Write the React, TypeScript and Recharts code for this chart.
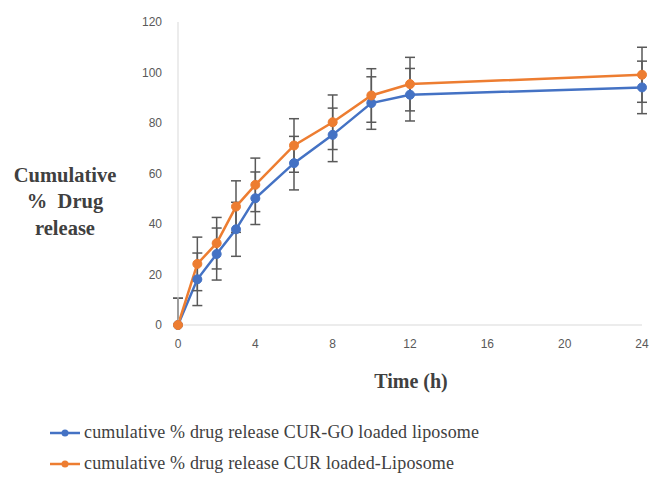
import React from 'react'
import { ErrorBar, Label, Line, LineChart, XAxis, YAxis } from 'recharts'

const hours = [0, 1, 2, 3, 4, 6, 8, 10, 12, 24]
const goLiposomeRelease = [0, 18.1, 28.1, 37.9, 50.2, 64.1, 75.3, 87.9, 91.2, 94.1]
const liposomeRelease = [0, 24.2, 32.4, 46.9, 55.5, 71.1, 80.3, 90.9, 95.4, 99.1]
const goLiposomeSd: Array<number | [number, number]> = [[0, 10.6], 10.4, 10.3, 10.7, 10.4, 10.6, 10.6, 10.4, 10.4, 10.4]
const liposomeSd: Array<number | [number, number]> = [[0, 10.6], 10.6, 10.2, 10.2, 10.6, 10.6, 10.8, 10.6, 10.6, 10.9]
const xTicks = [0, 4, 8, 12, 16, 20, 24]
const yTicks = [0, 20, 40, 60, 80, 100, 120]

const BLUE = '#4472C4'
const ORANGE = '#ED7D31'
const AXIS_GREY = '#d9d9d9'
const TICK_GREY = '#595959'
const SERIF = '"Liberation Serif", "Times New Roman", serif'

const SERIES = [
  { key: 'goLiposome', err: 'goLiposomeErr', color: BLUE, name: 'cumulative % drug release CUR-GO loaded liposome' },
  { key: 'liposome', err: 'liposomeErr', color: ORANGE, name: 'cumulative % drug release CUR loaded-Liposome' },
]

const data = hours.map((h, i) => ({
  hour: h,
  goLiposome: goLiposomeRelease[i],
  liposome: liposomeRelease[i],
  goLiposomeErr: goLiposomeSd[i],
  liposomeErr: liposomeSd[i],
}))

function LegendRow({ color, name }: { color: string; name: string }) {
  return (
    <div style={{ display: 'flex', alignItems: 'center', height: 31 }}>
      <svg width={30} height={12} style={{ marginRight: 4 }}>
        <line x1={0} y1={6} x2={30} y2={6} stroke={color} strokeWidth={2.5} />
        <circle cx={15} cy={6} r={3.5} fill={color} />
      </svg>
      <span style={{ fontFamily: SERIF, fontSize: 18, letterSpacing: 0.15, color: '#404040', whiteSpace: 'nowrap' }}>
        {name}
      </span>
    </div>
  )
}

export default function App() {
  return (
    <div style={{ position: 'absolute', left: 0, top: 0, width: 651, height: 478, background: '#fff' }}>
      <LineChart width={651} height={478} data={data} margin={{ top: 22, right: 9, left: 148, bottom: 123 }}>
        <XAxis
          dataKey="hour"
          type="number"
          domain={[0, 24]}
          ticks={xTicks}
          height={30}
          stroke={AXIS_GREY}
          tickLine={false}
          tickMargin={8}
          tick={{ fontSize: 12, fill: TICK_GREY, fontFamily: '"Liberation Sans", Arial, sans-serif' }}
        >
          <Label
            content={() => (
              <text x={411} y={388} textAnchor="middle" fontFamily={SERIF} fontWeight="bold" fontSize={20} fill="#404040">
                Time (h)
              </text>
            )}
          />
        </XAxis>
        <YAxis
          type="number"
          domain={[0, 120]}
          ticks={yTicks}
          width={30}
          stroke={AXIS_GREY}
          tickLine={false}
          tickMargin={10}
          tick={{ fontSize: 12, fill: TICK_GREY, fontFamily: '"Liberation Sans", Arial, sans-serif' }}
        >
          <Label
            content={() => (
              <text textAnchor="middle" fontFamily={SERIF} fontWeight="bold" fontSize={20.5} fill="#404040">
                <tspan x={65} y={182}>Cumulative</tspan>
                <tspan x={65} y={208}>{'%\u00a0\u00a0Drug'}</tspan>
                <tspan x={65} y={235}>release</tspan>
              </text>
            )}
          />
        </YAxis>
        {SERIES.map((s) => (
          <Line
            key={s.key}
            dataKey={s.key}
            stroke={s.color}
            strokeWidth={2.5}
            dot={{ r: 4.5, fill: s.color, stroke: s.color, strokeWidth: 1 }}
            activeDot={false}
            isAnimationActive={false}
          >
            <ErrorBar dataKey={s.err} direction="y" width={5} stroke="#595959" strokeWidth={1.5} />
          </Line>
        ))}
      </LineChart>
      <div style={{ position: 'absolute', left: 50, top: 417 }}>
        {SERIES.map((s) => (
          <LegendRow key={s.key} color={s.color} name={s.name} />
        ))}
      </div>
    </div>
  )
}
